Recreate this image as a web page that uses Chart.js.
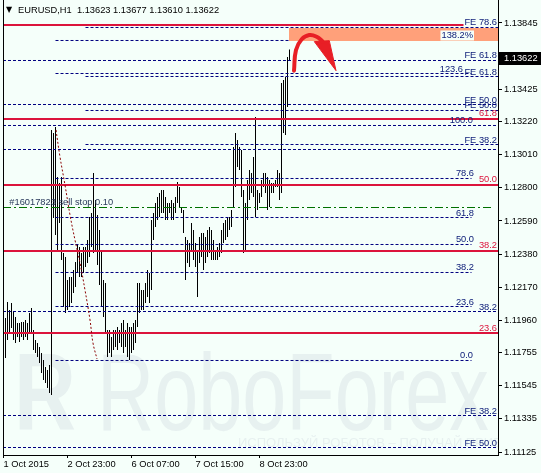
<!DOCTYPE html>
<html><head><meta charset="utf-8">
<script src="https://cdn.jsdelivr.net/npm/chart.js@4.4.0/dist/chart.umd.min.js"></script>
<style>html,body{margin:0;padding:0;background:#F5FFFA;}canvas{display:block;}</style>
</head><body>
<canvas id="c" width="541" height="473"></canvas>
<script>
// ---- DATA (EURUSD H1, one bar per hour) ----
const highs = [1.11804,1.11975,1.12076,1.12026,1.12070,1.12013,1.11981,1.11943,1.11943,1.11949,
1.11949,1.11962,1.11943,1.12007,1.12038,1.11899,1.11835,1.11816,1.11791,1.11753,
1.11709,1.11664,1.11645,1.11677,1.13167,1.13148,1.13186,1.12869,1.12831,1.12869,
1.12387,1.12362,1.12216,1.12235,1.12235,1.12279,1.12330,1.12438,1.12425,1.12387,
1.12425,1.12425,1.12469,1.12615,1.12641,1.12894,1.12723,1.12628,1.12533,1.12406,
1.12216,1.12197,1.11899,1.11899,1.11854,1.11899,1.11899,1.11918,1.11899,1.11943,
1.11962,1.11899,1.11943,1.11918,1.11918,1.11943,1.11962,1.12197,1.12197,1.12152,
1.12152,1.12197,1.12279,1.12260,1.12596,1.12641,1.12704,1.12742,1.12767,1.12786,
1.12786,1.12742,1.12704,1.12704,1.12723,1.12704,1.12742,1.12837,1.12805,1.12679,
1.12660,1.12488,1.12469,1.12450,1.12577,1.12533,1.12450,1.12406,1.12488,1.12514,
1.12514,1.12488,1.12533,1.12552,1.12533,1.12469,1.12406,1.12425,1.12450,1.12533,
1.12577,1.12596,1.12615,1.12615,1.12660,1.13059,1.13148,1.13103,1.13059,1.13040,
1.12786,1.12704,1.12850,1.12913,1.12894,1.12996,1.13249,1.12786,1.12767,1.12850,
1.12894,1.12894,1.12869,1.12850,1.12831,1.12831,1.12850,1.12913,1.12894,1.13465,
1.13484,1.13503,1.13630,1.13677];
const lows = [1.11499,1.11721,1.11835,1.11880,1.11911,1.11835,1.11816,1.11854,1.11823,1.11854,
1.11835,1.11854,1.11835,1.11880,1.11880,1.11772,1.11753,1.11728,1.11690,1.11626,
1.11582,1.11563,1.11531,1.11499,1.11487,1.12609,1.12501,1.12406,1.12577,1.12343,
1.12045,1.12007,1.12026,1.12045,1.12070,1.12133,1.12171,1.12260,1.12235,1.12235,
1.12260,1.12298,1.12324,1.12362,1.12425,1.12387,1.12393,1.12311,1.12184,1.12045,
1.11981,1.11880,1.11728,1.11753,1.11728,1.11772,1.11791,1.11772,1.11816,1.11791,
1.11753,1.11791,1.11728,1.11709,1.11753,1.11772,1.11816,1.11918,1.12007,1.12026,
1.12026,1.12070,1.12108,1.12070,1.12152,1.12469,1.12552,1.12596,1.12615,1.12641,
1.12641,1.12596,1.12596,1.12641,1.12596,1.12596,1.12641,1.12704,1.12679,1.12641,
1.12514,1.12216,1.12324,1.12298,1.12406,1.12343,1.12298,1.12108,1.12324,1.12362,
1.12279,1.12324,1.12362,1.12387,1.12343,1.12343,1.12343,1.12343,1.12362,1.12387,
1.12450,1.12469,1.12488,1.12533,1.12552,1.12679,1.12805,1.12932,1.12913,1.12742,
1.12387,1.12406,1.12596,1.12723,1.12767,1.12742,1.12615,1.12660,1.12704,1.12742,
1.12805,1.12767,1.12660,1.12679,1.12767,1.12767,1.12805,1.12805,1.12723,1.12767,
1.13148,1.13135,1.13313,1.13610];

const xTickIndex = [0, 32, 64, 96, 128];
const xTickLabels = ['1 Oct 2015', '2 Oct 23:00', '6 Oct 07:00', '7 Oct 15:00', '8 Oct 23:00'];
const yTicks = [1.11125,1.11335,1.11545,1.11755,1.11960,1.12170,1.12380,1.12590,1.12800,1.13010,1.13220,1.13425,1.13845];
const lastPrice = 1.13622;
const titleText = 'EURUSD,H1  1.13623 1.13677 1.13610 1.13622';

// scale bounds (bar index / price)
const xMin = -0.25, xMax = 247.25;
const yMin = 1.111063, yMax = 1.139908;

// solid red Fibonacci levels
const redPrices = [1.138323, 1.132364, 1.128180, 1.123996, 1.118797];
const redTo     = [230, xMax, xMax, xMax, xMax];
const redTexts  = ['', '61.8', '50.0', '38.2', '23.6'];

// dashed blue Fibonacci / expansion levels
const dashPrices = [1.138165,1.137341,1.136073,1.135248,1.135058,1.133283,1.132903,1.131952,1.130747,1.130430,
                    1.128592,1.126119,1.124408,1.122633,1.120477,1.120160,1.117054,1.113567,1.111538];
const dashFrom = [41,26,xMin,26,41,xMin,41,xMin,41,xMin,26,26,26,26,26,xMin,26,xMin,xMin];
const dashTo   = [xMax,xMax,xMax,234,xMax,xMax,xMax,xMax,xMax,xMax,234,234,234,234,234,xMax,234,xMax,xMax];
const dashTexts = ['FE 78.6','138.2%','FE 61.8','123.6','FE 61.8','FE 50.0','FE 50.0','100.0','FE 38.2','',
                   '78.6','61.8','50.0','38.2','23.6','38.2','0.0','FE 38.2','FE 50.0'];
const dashTextEnd = [246.75,234.75,246.75,229.75,246.75,246.75,246.75,234.75,246.75,0,
                     235.25,235.25,235.25,235.25,235.25,246.75,234.75,246.75,246.75];

// pending order line
const orderPrice = 1.126753;
const orderTo = 244;
const orderText = '#16017823 sell stop 0.10';
const orderTextAt = 2.9;

// highlighted zone
const zoneFrom = 142.75, zoneTop = 1.138133, zoneBottom = 1.137309;

// dotted arc
const arcX = [26.25,28.25,30.75,33.25,35.75,38.25,40.75,43.25,44.75,46.75];
const arcY = [1.13167,1.12996,1.12818,1.12628,1.12469,1.12324,1.12152,1.11962,1.11816,1.11715];

// forecast arrow
const arrowX = [145.25,146.25,149.1,152.9,156.6,159.6];
const arrowY = [1.13543,1.13674,1.13742,1.13769,1.13758,1.13727];
const headX = [155.4,162.9,166.25,155.4];
const headY = [1.13727,1.13733,1.13543,1.13727];

// ---- styles ----
const BG = '#F5FFFA', NAVY = '#000080', LABEL_BLUE = '#10207A', RED = '#DC143C';
const FONT = '"Liberation Sans", Arial, sans-serif';
const FS = 9.3;
Chart.defaults.font.family = FONT;
Chart.defaults.font.size = FS;
Chart.defaults.color = '#000';

const pts = (xs, ys) => xs.map((v, k) => ({x: v, y: ys[k]}));
const datasets = [];

datasets.push({type:'line', data: pts(arrowX, arrowY), borderColor:'#E81E25', borderWidth:4,
  tension:0.45, pointRadius:0, fill:false, order:0, borderCapStyle:'round'});
datasets.push({type:'line', data: pts(headX, headY), borderColor:'#E81E25', backgroundColor:'#E81E25',
  borderWidth:1, tension:0, pointRadius:0, fill:'shape', order:0});
datasets.push({type:'line', data: pts(arcX, arcY), borderColor:'#8B0000', borderWidth:1, borderDash:[2,2],
  tension:0.4, pointRadius:0, fill:false, order:1});
datasets.push({type:'line', data:[{x:zoneFrom,y:zoneTop},{x:xMax,y:zoneTop}], borderWidth:0, borderColor:'rgba(0,0,0,0)',
  pointRadius:0, fill:{value:zoneBottom}, backgroundColor:'#FFA07A', order:2});
redPrices.forEach((p, k) => datasets.push({type:'line', data:[{x:xMin,y:p},{x:redTo[k],y:p}],
  borderColor:RED, borderWidth:2, pointRadius:0, fill:false, order:3}));
dashPrices.forEach((p, k) => datasets.push({type:'line', data:[{x:dashFrom[k],y:p},{x:dashTo[k],y:p}],
  borderColor:NAVY, borderWidth:1, borderDash:[3,2], pointRadius:0, fill:false, order:4}));
datasets.push({type:'line', data:[{x:xMin,y:orderPrice},{x:orderTo,y:orderPrice}], borderColor:'#007000',
  borderWidth:1, borderDash:[8,3,2,3], pointRadius:0, fill:false, order:4});
datasets.push({type:'bar', data: highs.map((h, i) => ({x:i, y:[lows[i], h]})), backgroundColor:'#000',
  barThickness:1, grouped:false, borderWidth:0, inflateAmount:0, order:10});

const decor = {
  id:'decor',
  beforeDraw(chart){
    const c = chart.ctx; c.save(); c.fillStyle = BG; c.fillRect(0,0,chart.width,chart.height); c.restore();
  },
  beforeDatasetsDraw(chart){
    const c = chart.ctx, a = chart.chartArea;
    c.save();
    c.beginPath(); c.rect(a.left, a.top, a.right - a.left, a.bottom - a.top); c.clip();
    c.fillStyle = '#E7F1F0';
    c.textBaseline = 'alphabetic'; c.textAlign = 'left';
    c.save(); c.translate(14, 430); c.scale(0.78, 1);
    c.font = 'bold 110px ' + FONT; c.fillText('R', 0, 0); c.restore();
    c.save(); c.translate(97, 430); c.scale(0.72, 1);
    c.font = '110px ' + FONT; c.fillText('RoboForex', 0, 0); c.restore();
    c.font = '13px ' + FONT; c.fillText('ИСПОЛЬЗУЙ РОБОТОВ – ПОЛУЧАЙ ПРИБЫЛЬ', 238, 447);
    c.restore();
  },
  afterDatasetsDraw(chart){
    const c = chart.ctx, x = chart.scales.x, y = chart.scales.y, a = chart.chartArea;
    c.save();
    c.font = FS + 'px ' + FONT;
    c.textBaseline = 'alphabetic'; c.textAlign = 'right';
    dashPrices.forEach((p, k) => {
      const t = dashTexts[k]; if (!t) return;
      const px = x.getPixelForValue(dashTextEnd[k]);
      const py = y.getPixelForValue(p) - 2;
      if (t.endsWith('%')) {
        const w = c.measureText(t).width;
        c.fillStyle = BG; c.fillRect(px - w - 1, py - 8, w + 2, 10);
      }
      c.fillStyle = LABEL_BLUE; c.fillText(t, px, py);
    });
    redPrices.forEach((p, k) => {
      const t = redTexts[k]; if (!t) return;
      c.fillStyle = RED;
      c.fillText(t, x.getPixelForValue(246.75), y.getPixelForValue(p) - 2.5);
    });
    c.textAlign = 'left';
    c.fillStyle = '#2A3A5C';
    c.fillText(orderText, x.getPixelForValue(orderTextAt), y.getPixelForValue(orderPrice) - 3);
    // left frame line
    c.strokeStyle = '#000'; c.lineWidth = 1;
    c.beginPath(); c.moveTo(a.left + 0.5, 0); c.lineTo(a.left + 0.5, a.bottom); c.stroke();
    c.restore();
  },
  afterDraw(chart){
    const c = chart.ctx, y = chart.scales.y, a = chart.chartArea;
    c.save();
    c.font = FS + 'px ' + FONT; c.textBaseline = 'middle'; c.textAlign = 'left';
    const py = Math.round(y.getPixelForValue(lastPrice));
    c.fillStyle = '#000'; c.fillRect(a.right, py - 6, chart.width - a.right, 13);
    c.fillStyle = '#fff'; c.fillText(lastPrice.toFixed(5), a.right + 6, py + 0.5);
    // title
    c.fillStyle = '#000';
    c.font = '8px "DejaVu Sans", sans-serif'; c.fillText('▼', 6, 10);
    c.font = FS + 'px ' + FONT; c.fillText(titleText, 18, 10);
    c.restore();
  }
};

new Chart(document.getElementById('c'), {
  type:'bar',
  data:{datasets},
  plugins:[decor],
  options:{
    responsive:false, animation:false, events:[],
    layout:{padding:{left:3, top:0, right:0, bottom:0}},
    plugins:{legend:{display:false}, tooltip:{enabled:false}, title:{display:false}},
    scales:{
      x:{type:'linear', min:xMin, max:xMax, offset:false, position:'bottom',
        afterFit(s){ s.height = 18; s.paddingLeft = 0; s.paddingRight = 0; },
        afterBuildTicks(s){ s.ticks = xTickIndex.map(v => ({value:v})); },
        ticks:{callback:(v, i) => xTickLabels[i], align:'start', autoSkip:false, maxRotation:0, minRotation:0,
          padding:1, color:'#000', font:{size:FS}},
        grid:{drawOnChartArea:false, drawTicks:true, tickLength:3, color:'#000', offset:false},
        border:{display:true, color:'#000', width:1}},
      y:{type:'linear', position:'right', min:yMin, max:yMax,
        afterFit(s){ s.width = 43; s.paddingTop = 0; s.paddingBottom = 0; },
        afterBuildTicks(s){ s.ticks = yTicks.map(v => ({value:v})); },
        ticks:{callback:v => v.toFixed(5), autoSkip:false, padding:2, color:'#000', font:{size:FS}},
        grid:{drawOnChartArea:false, drawTicks:true, tickLength:4, color:'#000'},
        border:{display:true, color:'#000', width:1}}
    }
  }
});
</script>
</body></html>
